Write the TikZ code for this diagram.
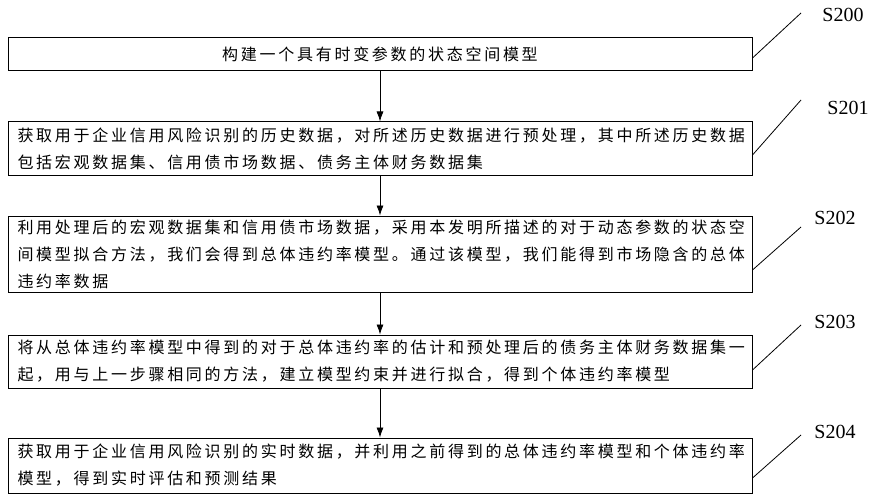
\documentclass[tikz,border=0pt]{standalone}
\usepackage{fontspec}
\setmainfont{Liberation Serif}
\newfontfamily\cjk[LetterSpace=17]{Noto Sans CJK SC}
\usetikzlibrary{arrows.meta}
\begin{document}
\begin{tikzpicture}[x=1pt,y=-1pt,
  stepbox/.style={draw,line width=1pt,minimum width=744pt,inner sep=0pt},
  txt/.style={font=\cjk\fontsize{16}{27}\selectfont,align=left,anchor=west},
  lab/.style={font=\fontsize{20}{20}\selectfont},
  arr/.style={-{Latex[length=10pt,width=7pt]},line width=0.8pt},
  lead/.style={line width=0.8pt}]
\useasboundingbox (0,0) rectangle (875,500);
\node[stepbox,minimum height=33pt] (b0) at (380,54.5) {};
\node[font=\cjk\fontsize{16}{27}\selectfont] at (b0) {构建一个具有时变参数的状态空间模型};
\node[stepbox,minimum height=53pt] (b1) at (380,148.5) {};
\node[txt] at (14,148.5) {获取用于企业信用风险识别的历史数据，对所述历史数据进行预处理，其中所述历史数据\\包括宏观数据集、信用债市场数据、债务主体财务数据集};
\node[stepbox,minimum height=76pt] (b2) at (380,254) {};
\node[txt] at (14,254) {利用处理后的宏观数据集和信用债市场数据，采用本发明所描述的对于动态参数的状态空\\间模型拟合方法，我们会得到总体违约率模型。通过该模型，我们能得到市场隐含的总体\\违约率数据};
\node[stepbox,minimum height=53pt] (b3) at (380,361.5) {};
\node[txt] at (14,361.5) {将从总体违约率模型中得到的对于总体违约率的估计和预处理后的债务主体财务数据集一\\起，用与上一步骤相同的方法，建立模型约束并进行拟合，得到个体违约率模型};
\node[stepbox,minimum height=55pt] (b4) at (380,465.5) {};
\node[txt] at (14,465.5) {获取用于企业信用风险识别的实时数据，并利用之前得到的总体违约率模型和个体违约率\\模型，得到实时评估和预测结果};
\draw[arr] (b0) -- (b1);
\draw[arr] (b1) -- (b2);
\draw[arr] (b2) -- (b3);
\draw[arr] (b3) -- (b4);
\node[lab] (l0) at (843,15) {S200};
\node[lab] (l1) at (848,108) {S201};
\node[lab] (l2) at (835,218) {S202};
\node[lab] (l3) at (835,322) {S203};
\node[lab] (l4) at (835,432) {S204};
\coordinate (e0) at (801,13); \coordinate (e1) at (801,100); \coordinate (e2) at (801,227);
\coordinate (e3) at (801,325); \coordinate (e4) at (801,435);
\draw[lead] (b0.east |- 0,58) -- (e0);
\draw[lead] (b1.east |- 0,155) -- (e1);
\draw[lead] (b2.east |- 0,270) -- (e2);
\draw[lead] (b3.east |- 0,370) -- (e3);
\draw[lead] (b4.east |- 0,478) -- (e4);
\end{tikzpicture}
\end{document}
